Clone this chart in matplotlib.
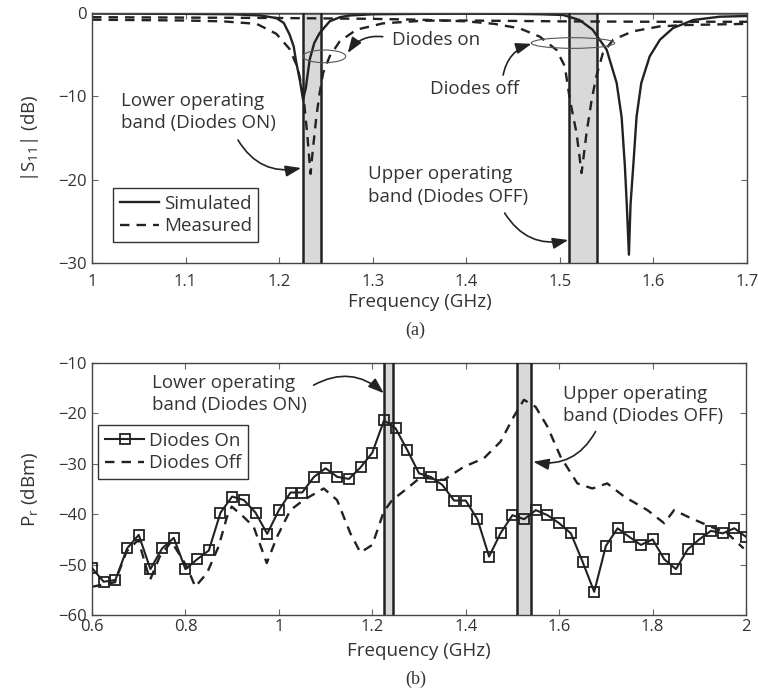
import numpy as np
import matplotlib
matplotlib.use('Agg')
import matplotlib.pyplot as plt
from matplotlib.patches import Ellipse
from matplotlib.ticker import FuncFormatter

plt.rcParams['font.family'] = ['Open Sans', 'DejaVu Sans']
plt.rcParams['font.size'] = 13.5

# ---- (a) |S11| data ----
sim_on_f = [1.0, 1.1, 1.15, 1.18, 1.197, 1.205, 1.2112, 1.2155, 1.2184, 1.222, 1.2255,
            1.2285, 1.2326, 1.2375, 1.2433, 1.254, 1.265, 1.275, 1.3, 1.4, 1.5, 1.6, 1.7]
sim_on_db = [-0.05, -0.1, -0.15, -0.3, -0.6, -1.2, -2.6, -4.0, -6.0, -8.0, -10.4,
             -9.0, -5.6, -3.6, -2.4, -1.0, -0.5, -0.3, -0.15, -0.05, -0.05, -0.05, -0.05]

sim_off_f = [1.0, 1.3, 1.45, 1.48, 1.5035, 1.521, 1.535, 1.55, 1.5607, 1.566, 1.5695, 1.5715,
             1.5738, 1.5755, 1.5784, 1.582, 1.587, 1.596, 1.607, 1.621, 1.6425, 1.671, 1.7]
sim_off_db = [-0.02, -0.05, -0.1, -0.15, -0.24, -0.84, -2.0, -4.4, -8.4, -12.5, -18.4, -23.0,
              -29.0, -23.0, -18.4, -12.4, -8.4, -5.2, -3.2, -1.8, -0.84, -0.44, -0.36]

meas_on_f = [1.0, 1.05, 1.1, 1.14, 1.176, 1.197, 1.211, 1.22, 1.226, 1.230, 1.2335,
             1.236, 1.2398, 1.2433, 1.247, 1.254, 1.2647, 1.2826, 1.311, 1.354, 1.4, 1.5, 1.6, 1.7]
meas_on_db = [-0.8, -0.85, -0.9, -1.0, -1.3, -2.5, -4.3, -6.6, -10.0, -14.5, -19.3,
              -16.4, -12.4, -9.6, -7.2, -5.2, -3.4, -2.0, -1.24, -0.92, -0.9, -1.0, -1.05, -1.05]

meas_off_f = [1.0, 1.1, 1.2, 1.3, 1.35, 1.4, 1.43, 1.457, 1.4786, 1.4965, 1.5053, 1.5107,
              1.5178, 1.5232, 1.5285, 1.534, 1.539, 1.546, 1.557, 1.578, 1.607, 1.6355, 1.7]
meas_off_db = [-0.5, -0.55, -0.6, -0.7, -0.8, -1.0, -1.3, -1.84, -2.84, -4.44, -6.4, -10.4,
               -14.4, -19.2, -14.4, -10.4, -7.6, -4.8, -3.2, -2.2, -1.6, -1.44, -1.3]

# ---- (b) received power data ----
pr_f = [0.600, 0.625, 0.650, 0.675, 0.700, 0.725, 0.750, 0.775, 0.800, 0.825, 0.850, 0.875,
        0.900, 0.925, 0.950, 0.975, 1.000, 1.025, 1.050, 1.075, 1.100, 1.125, 1.150, 1.175,
        1.200, 1.225, 1.250, 1.275, 1.300, 1.325, 1.350, 1.375, 1.400, 1.425, 1.450, 1.475,
        1.500, 1.525, 1.550, 1.575, 1.600, 1.625, 1.650, 1.675, 1.700, 1.725, 1.750, 1.775,
        1.800, 1.825, 1.850, 1.875, 1.900, 1.925, 1.950, 1.975, 2.000]
pr_on = [-50.7, -53.4, -53.05, -46.8, -44.1, -50.9, -46.8, -44.7, -50.9, -48.95, -47.2, -39.7,
         -36.5, -37.2, -39.7, -43.9, -39.2, -35.7, -35.7, -32.6, -30.9, -32.6, -33.0, -30.7,
         -27.8, -21.4, -23.0, -27.3, -31.9, -32.6, -34.2, -37.3, -37.3, -41.0, -48.4, -43.7,
         -40.2, -41.0, -39.2, -40.2, -41.8, -43.8, -49.4, -55.4, -46.3, -42.8, -44.5, -46.1,
         -45.0, -48.95, -50.9, -47.0, -45.0, -43.3, -43.8, -42.8, -44.5]

off_f = [0.6, 0.649, 0.674, 0.699, 0.724, 0.745, 0.77, 0.803, 0.821, 0.846, 0.871, 0.889,
         0.899, 0.924, 0.946, 0.974, 0.996, 1.0245, 1.053, 1.096, 1.1245, 1.153, 1.1745, 1.2,
         1.2245, 1.2425, 1.2745, 1.303, 1.353, 1.396, 1.439, 1.4746, 1.503, 1.5245, 1.5495,
         1.5747, 1.603, 1.639, 1.671, 1.703, 1.739, 1.789, 1.825, 1.846, 1.882, 1.925, 1.96, 1.995]
pr_off = [-54.4, -53.5, -47.4, -45.1, -53.1, -48.4, -45.4, -50.4, -54.4, -51.7, -46.4, -40.5,
          -38.5, -40.5, -42.5, -49.7, -44.5, -39.2, -37.2, -34.9, -37.2, -43.8, -47.6, -46.1,
          -39.5, -37.2, -34.9, -32.7, -33.2, -30.6, -28.9, -25.6, -20.6, -17.3, -18.7,
          -22.6, -28.6, -33.9, -34.9, -33.9, -36.5, -39.2, -41.8, -39.2, -40.8, -42.5, -43.8, -46.8]

bands = [(1.225, 1.245), (1.51, 1.54)]

line_c = '#222222'
text_c = '#333333'
serif = ['Liberation Serif', 'DejaVu Serif']


def minus_fmt(v, pos):
    return ('%g' % v).replace('-', '\u2212')


def style_axes(ax, xpad):
    ax.tick_params(direction='in', top=True, right=True, length=4, width=0.8,
                   colors='#666666', labelcolor=text_c, labelsize=12)
    ax.tick_params(axis='x', pad=xpad)
    ax.tick_params(axis='y', pad=4)
    for s in ax.spines.values():
        s.set_color('#444444')
        s.set_linewidth(1.0)
    ax.xaxis.set_major_formatter(FuncFormatter(minus_fmt))
    ax.yaxis.set_major_formatter(FuncFormatter(minus_fmt))


def draw_bands(ax):
    for lo, hi in bands:
        ax.axvspan(lo, hi, color='#d9d9d9', zorder=0, lw=0)
        ax.axvline(lo, color=line_c, lw=1.8, zorder=3)
        ax.axvline(hi, color=line_c, lw=1.8, zorder=3)


def curved_arrow(ax, start, tip, rad):
    ax.annotate('', xy=tip, xytext=start,
                arrowprops=dict(arrowstyle='-|>,head_length=0.7,head_width=0.25',
                                connectionstyle='arc3,rad=%s' % rad,
                                color=line_c, lw=1.2, shrinkA=0, shrinkB=0))


def style_legend(leg):
    leg.get_frame().set_linewidth(1.0)
    for t in leg.get_texts():
        t.set_color(text_c)


fig = plt.figure(figsize=(7.58, 6.96), dpi=100)

# ---------------- (a) ----------------
ax1 = fig.add_axes([0.1214, 0.6221, 0.8641, 0.3592])
draw_bands(ax1)
ax1.plot(sim_on_f, sim_on_db, color=line_c, lw=1.7, label='Simulated')
ax1.plot(sim_off_f, sim_off_db, color=line_c, lw=1.7)
ax1.plot(meas_on_f, meas_on_db, color=line_c, lw=1.7, ls=(0, (4, 3)), label='Measured')
ax1.plot(meas_off_f, meas_off_db, color=line_c, lw=1.7, ls=(0, (4, 3)))
ax1.set_xlim(1, 1.7)
ax1.set_ylim(-30, 0)
ax1.set_xticks([1, 1.1, 1.2, 1.3, 1.4, 1.5, 1.6, 1.7])
ax1.set_yticks([-30, -20, -10, 0])
style_axes(ax1, 8)
ax1.set_xlabel('Frequency (GHz)', color=text_c, labelpad=2)
ax1.set_ylabel('|S$_{\\mathregular{11}}$| (dB)', color=text_c, labelpad=12)

ax1.add_patch(Ellipse((1.2483, -5.2), 0.0456, 1.52, fill=False, ec='#555555', lw=0.8, zorder=4))
ax1.add_patch(Ellipse((1.514, -3.6), 0.0891, 1.28, fill=False, ec='#555555', lw=0.8, zorder=4))

ax1.text(1.3203, -3.2, 'Diodes on', ha='left', va='center', color=text_c)
curved_arrow(ax1, (1.3107, -2.84), (1.2733, -4.8), 0.3)
ax1.text(1.409, -9.1, 'Diodes off', ha='center', va='center', color=text_c)
curved_arrow(ax1, (1.4394, -7.44), (1.4697, -3.7), -0.3)
ax1.text(1.0312, -11.9, 'Lower operating\nband (Diodes ON)', ha='left', va='center',
         color=text_c, linespacing=1.3)
curved_arrow(ax1, (1.156, -15.24), (1.2235, -18.6), 0.35)
ax1.text(1.295, -20.7, 'Upper operating\nband (Diodes OFF)', ha='left', va='center',
         color=text_c, linespacing=1.3)
curved_arrow(ax1, (1.441, -24.0), (1.509, -27.24), 0.35)

leg1 = ax1.legend(loc='lower left', bbox_to_anchor=(0.0325, 0.085), borderaxespad=0,
                  fancybox=False, edgecolor='#333333', framealpha=1, handlelength=2.1,
                  handletextpad=0.25, borderpad=0.35, labelspacing=0.25)
style_legend(leg1)

fig.text(0.548, 1 - 330 / 696, '(a)', ha='center', va='center', color=text_c,
         fontsize=13, family=serif)

# ---------------- (b) ----------------
ax2 = fig.add_axes([0.1214, 0.1164, 0.8628, 0.3621])
draw_bands(ax2)
ax2.plot(pr_f, pr_on, color=line_c, lw=1.5, marker='s', ms=7, mfc='none', mec=line_c,
         mew=1.3, label='Diodes On', zorder=4)
ax2.plot(off_f, pr_off, color=line_c, lw=1.7, ls=(0, (4, 3)), label='Diodes Off')
ax2.set_xlim(0.6, 2.0)
ax2.set_ylim(-60, -10)
ax2.set_xticks([0.6, 0.8, 1.0, 1.2, 1.4, 1.6, 1.8, 2.0])
ax2.set_yticks([-60, -50, -40, -30, -20, -10])
style_axes(ax2, 3)
ax2.set_xlabel('Frequency (GHz)', color=text_c, labelpad=5)
ax2.set_ylabel('P$_{\\mathregular{r}}$ (dBm)', color=text_c, labelpad=12)

ax2.text(0.728, -16.2, 'Lower operating\nband (Diodes ON)', ha='left', va='center',
         color=text_c, linespacing=1.3)
curved_arrow(ax2, (1.0744, -14.4), (1.2245, -16.0), -0.35)
ax2.text(1.609, -18.3, 'Upper operating\nband (Diodes OFF)', ha='left', va='center',
         color=text_c, linespacing=1.3)
curved_arrow(ax2, (1.678, -23.6), (1.5445, -29.6), -0.35)

leg2 = ax2.legend(loc='upper left', bbox_to_anchor=(0.0096, 0.754), borderaxespad=0,
                  fancybox=False, edgecolor='#333333', framealpha=1, handlelength=2.1,
                  handletextpad=0.25, borderpad=0.35, labelspacing=0.25)
style_legend(leg2)

fig.text(0.548, 1 - 679 / 696, '(b)', ha='center', va='center', color=text_c,
         fontsize=13, family=serif)

fig.savefig('out.png', dpi=100)
